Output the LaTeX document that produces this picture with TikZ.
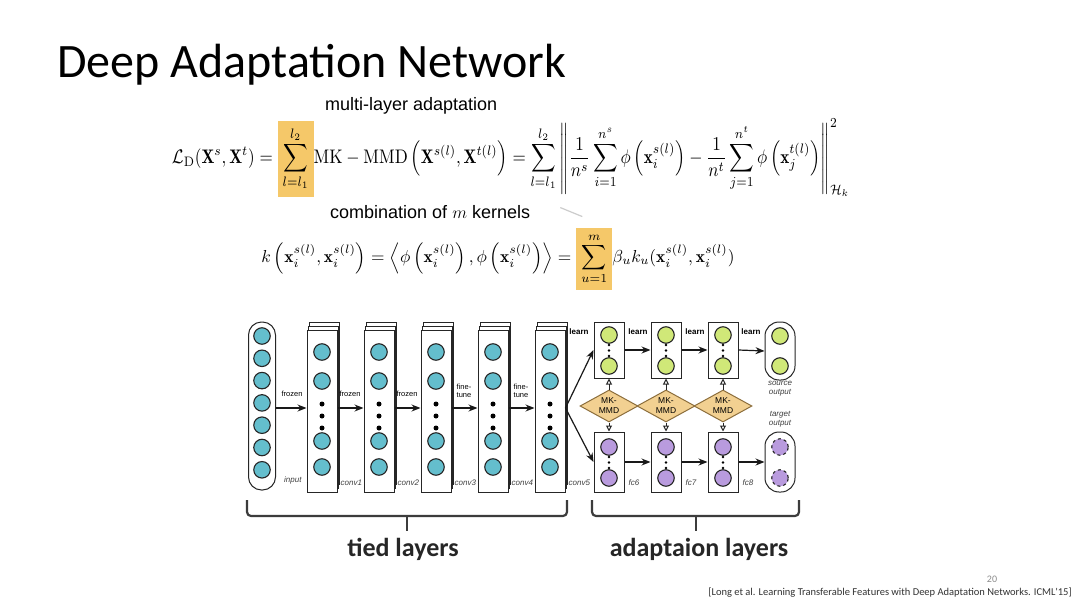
\documentclass[tikz,border=0pt]{standalone}
\usepackage{amsmath,amssymb}
\usepackage{graphicx}
\usepackage{fontspec}
\newfontfamily\calfont{Carlito}
\newfontfamily\arialfont{Liberation Sans}
\usetikzlibrary{arrows.meta,shapes.geometric,calc}
\definecolor{hl}{RGB}{245,200,105}
\definecolor{cyanF}{RGB}{100,190,205}
\definecolor{greenF}{RGB}{208,232,120}
\definecolor{purpF}{RGB}{185,155,222}
\definecolor{dmdF}{RGB}{242,208,145}
\definecolor{dmdD}{RGB}{140,110,60}
\definecolor{brc}{RGB}{60,60,60}
\begin{document}
\begin{tikzpicture}[x=1pt,y=-1pt,
  lay/.style={draw=black!85, line width=1pt, fill=white},
  layer/.style={lay, minimum width=30pt, minimum height=162pt, inner sep=0pt},
  abox/.style={lay, minimum width=30pt, inner sep=0pt},
  ccirc/.style={circle, draw=black!85, line width=1.1pt, fill=cyanF, minimum size=16.5pt, inner sep=0pt},
  gcirc/.style={circle, draw=black!85, line width=1.1pt, fill=greenF, minimum size=16.5pt, inner sep=0pt},
  pcirc/.style={circle, draw=black!85, line width=1.1pt, fill=purpF, minimum size=16.5pt, inner sep=0pt},
  bigdot/.style={circle, fill=black, minimum size=5pt, inner sep=0pt},
  smalldot/.style={circle, fill=black, minimum size=2.6pt, inner sep=0pt},
  arr/.style={-{Stealth[length=9pt,width=7pt]}, line width=1.2pt, black!90},
  oarr/.style={-{Triangle[open,length=6pt,width=6pt]}, line width=1pt, black!85},
  tlab/.style={font=\arialfont\fontsize{7.5}{8}\selectfont, inner sep=0pt, align=center},
  blab/.style={font=\arialfont\bfseries\fontsize{8}{9}\selectfont, inner sep=0pt},
  ilab/.style={font=\arialfont\itshape\fontsize{8}{9}\selectfont, inner sep=0pt, text=black!75, align=center},
  mmd/.style={diamond, draw=dmdD, line width=1pt, fill=dmdF, minimum width=58pt, minimum height=32pt, inner sep=0pt, aspect=1.8, align=center, font=\arialfont\fontsize{8.5}{10}\selectfont},
  brace/.style={draw=brc, line width=2.2pt, rounded corners=4pt},
  note/.style={font=\arialfont\fontsize{18}{20}\selectfont, inner sep=0pt},
  under/.style={font=\calfont\bfseries\fontsize{26}{28}\selectfont, inner sep=0pt, text=black!85}
]
\useasboundingbox (0,0) rectangle (1080,608);
\fill[white] (0,0) rectangle (1080,608);

% title
\node[anchor=base west, inner sep=0pt, font=\calfont\fontsize{48}{52}\selectfont] (title) at (57,77) {Deep Adaptation Network};

% formula 1
\node[note, anchor=base west] (n1) at (325,110) {multi-layer adaptation};
\node[inner sep=0pt] (f1) at (511,158) {\scalebox{1}[1.15]{\resizebox{678pt}{!}{$\displaystyle
\mathcal{L}_{\mathrm{D}}(\mathbf{X}^{s},\mathbf{X}^{t}) = \colorbox{hl}{$\displaystyle\sum_{l=l_1}^{l_2}$}\mathrm{MK}-\mathrm{MMD}\left(\mathbf{X}^{s(l)},\mathbf{X}^{t(l)}\right) = \sum_{l=l_1}^{l_2}\left\|\frac{1}{n^s}\sum_{i=1}^{n^s}\phi\left(\mathbf{x}_i^{s(l)}\right)-\frac{1}{n^t}\sum_{j=1}^{n^t}\phi\left(\mathbf{x}_j^{t(l)}\right)\right\|_{\mathcal{H}_k}^2$}}};

% formula 2
\node[note, anchor=base west] (n2) at (330,218) {combination of $m$ kernels};
\node[inner sep=0pt] (f2) at (498,259) {\resizebox{473pt}{!}{$\displaystyle
k\left(\mathbf{x}_i^{s(l)},\mathbf{x}_i^{s(l)}\right)=\left\langle\phi\left(\mathbf{x}_i^{s(l)}\right),\phi\left(\mathbf{x}_i^{s(l)}\right)\right\rangle=\colorbox{hl}{$\displaystyle\sum_{u=1}^{m}$}\beta_u k_u(\mathbf{x}_i^{s(l)},\mathbf{x}_i^{s(l)})$}};
\draw[black!20, line width=1.2pt] (n2.east) ++(30,-4) coordinate (k1) -- ++(22,9) coordinate (k2);

% input layer
\node[lay, rounded corners=13pt, minimum width=27pt, minimum height=168pt, inner sep=0pt] (in) at (262,406) {};
\foreach \k in {0,...,6} {
  \node[ccirc] (i\k) at (262,{336+22.3*\k}) {};
}
\node[ilab, anchor=west] (lin) at ([xshift=8pt,yshift=10pt]in.south east) {input};

% conv layers
\foreach \cx/\nm/\lab in {322/c1/conv1,379/c2/conv2,436/c3/conv3,493/c4/conv4,550/c5/conv5} {
  \draw[lay] (\cx-13,322) rectangle (\cx+17,484);
  \draw[lay] (\cx-14,326) rectangle (\cx+16,488);
  \node[layer] (\nm) at (\cx,411) {};
  \node[ccirc] (\nm a) at (\cx,352) {};
  \node[ccirc] (\nm b) at (\cx,381) {};
  \node[bigdot] (\nm d1) at (\cx,404) {};
  \node[bigdot] (\nm d2) at (\cx,416) {};
  \node[bigdot] (\nm d3) at (\cx,428) {};
  \node[ccirc] (\nm c) at (\cx,441) {};
  \node[ccirc] (\nm e) at (\cx,467) {};
  \node[ilab, anchor=west] (l\nm) at ([xshift=3pt,yshift=10pt]\nm.south east) {\lab};
}

% arrows between tied layers
\draw[arr] (in.east |- 0,408) -- (c1.west |- 0,408);
\draw[arr] (c1.east |- 0,408) -- (c2.west |- 0,408);
\draw[arr] (c2.east |- 0,408) -- (c3.west |- 0,408);
\draw[arr] (c3.east |- 0,408) -- (c4.west |- 0,408);
\draw[arr] (c4.east |- 0,408) -- (c5.west |- 0,408);
\node[tlab] (t1) at (292,394) {frozen};
\node[tlab] (t2) at (350,394) {frozen};
\node[tlab] (t3) at (407,394) {frozen};
\node[tlab] (t4) at (464,391) {fine-\\tune};
\node[tlab] (t5) at (521,391) {fine-\\tune};

% adaptation layers
\foreach \cx/\nm/\lab in {609/f6/fc6,666/f7/fc7,723/f8/fc8} {
  \node[abox, minimum height=56pt] (\nm s) at (\cx,350) {};
  \node[gcirc] (\nm sa) at (\cx,335) {};
  \node[gcirc] (\nm sb) at (\cx,366) {};
  \node[smalldot] (\nm sd1) at (\cx,345) {};
  \node[smalldot] (\nm sd2) at (\cx,350.5) {};
  \node[smalldot] (\nm sd3) at (\cx,356) {};
  \node[abox, minimum height=60pt] (\nm t) at (\cx,462) {};
  \node[pcirc] (\nm ta) at (\cx,447) {};
  \node[pcirc] (\nm tb) at (\cx,478) {};
  \node[smalldot] (\nm td1) at (\cx,457) {};
  \node[smalldot] (\nm td2) at (\cx,462.5) {};
  \node[smalldot] (\nm td3) at (\cx,468) {};
  \node[mmd] (\nm m) at (\cx,406) {MK-\\MMD};
  \draw[oarr] (\nm m.north) -- (\nm s.south);
  \draw[oarr] (\nm m.south) -- (\nm t.north);
  \node[ilab, anchor=west] (l\nm) at ([xshift=4pt,yshift=10pt]\nm t.south east) {\lab};
}

% outputs
\node[lay, rounded corners=14pt, minimum width=30pt, minimum height=58pt, inner sep=0pt] (so) at (780,351) {};
\node[gcirc] (soa) at (780,336) {};
\node[gcirc] (sob) at (780,366) {};
\node[lay, rounded corners=14pt, minimum width=30pt, minimum height=60pt, inner sep=0pt] (to) at (780,462) {};
\node[pcirc, dashed] (toa) at (780,447) {};
\node[pcirc, dashed] (tob) at (780,478) {};
\node[ilab] (lso) at (780,389) {source\\output};
\node[ilab] (lto) at (780,419) {target\\output};

% fan out from conv5
\draw[arr] (c5.east |- 0,408) -- (f6s.west);
\draw[arr] (c5.east |- 0,408) -- (f6t.west);

% horizontal arrows in adaptation layers
\draw[arr] (f6s.east) -- (f7s.west);
\draw[arr] (f7s.east) -- (f8s.west);
\draw[arr] (f8s.east) -- (so.west);
\draw[arr] (f6t.east) -- (f7t.west);
\draw[arr] (f7t.east) -- (f8t.west);
\draw[arr] (f8t.east) -- (to.west);
\node[blab] (le1) at (579,332) {learn};
\node[blab] (le2) at (638,332) {learn};
\node[blab] (le3) at (695,332) {learn};
\node[blab] (le4) at (751,332) {learn};

% braces
\draw[brace] (247,500) -- (247,516) -- (567,516) -- (567,500);
\draw[brace] (407,516) -- (407,531);
\draw[brace] (592,500) -- (592,516) -- (799,516) -- (799,500);
\draw[brace] (696,516) -- (696,531);
\node[under] (tied) at (403,549) {tied layers};
\node[under] (adap) at (699,549) {adaptaion layers};

% footer
\node[inner sep=0pt, font=\calfont\fontsize{10}{11}\selectfont, text=black!45] (pg) at (992,579) {20};
\node[inner sep=0pt, anchor=east, font=\calfont\fontsize{10.5}{11}\selectfont, text=black!80] (cite) at (1072,593) {[Long et al. Learning Transferable Features with Deep Adaptation Networks. ICML'15]};
\end{tikzpicture}
\end{document}
